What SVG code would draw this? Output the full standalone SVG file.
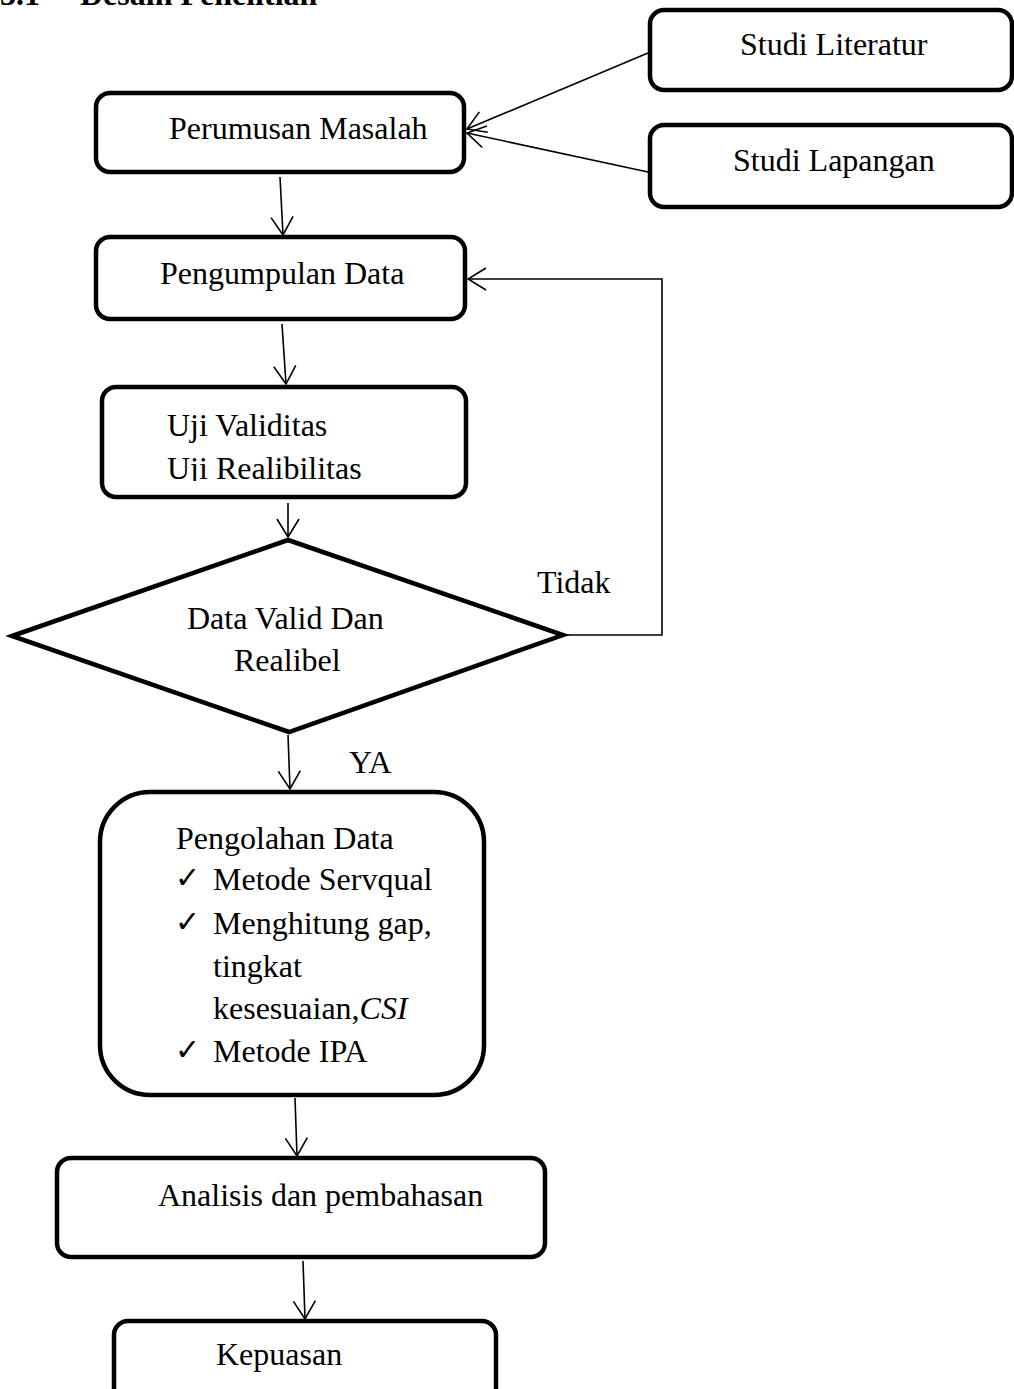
<svg xmlns="http://www.w3.org/2000/svg" width="1014" height="1389" viewBox="0 0 1014 1389">
<style>
  .box{fill:#fff;stroke:#000;stroke-width:4.5}
  .t{font-family:"Liberation Serif","Times New Roman",serif;font-size:32px;fill:#000}
  .ck{font-family:"DejaVu Sans",sans-serif;font-size:30px;fill:#000}
  .ln{fill:none;stroke:#000;stroke-width:1.6}
</style>
<defs>
  <marker id="ah" viewBox="0 0 20 24" refX="19" refY="12" markerWidth="20" markerHeight="24" markerUnits="userSpaceOnUse" orient="auto">
    <path d="M1,1 L19,12 L1,23" fill="none" stroke="#000" stroke-width="1.6"/>
  </marker>
  <clipPath id="ujiclip"><rect x="100" y="385" width="370" height="96"/></clipPath>
</defs>
<rect width="1014" height="1389" fill="#fff"/>
<text class="t" x="0" y="5" font-weight="bold">3.1</text>
<text class="t" x="80" y="5" font-weight="bold">Desain Penelitian</text>

<g id="connectors">
  <line class="ln" x1="648" y1="53" x2="467" y2="129" marker-end="url(#ah)"/>
  <line class="ln" x1="648" y1="172" x2="467" y2="133" marker-end="url(#ah)"/>
  <line class="ln" x1="280" y1="177" x2="283" y2="235" marker-end="url(#ah)"/>
  <line class="ln" x1="282" y1="324" x2="286" y2="384" marker-end="url(#ah)"/>
  <line class="ln" x1="288" y1="503" x2="288" y2="537" marker-end="url(#ah)"/>
  <polyline class="ln" points="563,635 662,635 662,279 468,279" marker-end="url(#ah)"/>
  <line class="ln" x1="288" y1="735" x2="290" y2="789" marker-end="url(#ah)"/>
  <line class="ln" x1="295" y1="1098" x2="297" y2="1156" marker-end="url(#ah)"/>
  <line class="ln" x1="303" y1="1261" x2="305" y2="1319" marker-end="url(#ah)"/>
  <text class="t" x="537" y="593">Tidak</text>
  <text class="t" x="349" y="773">YA</text>
</g>

<g id="studi-literatur">
  <rect class="box" x="650" y="10" width="362" height="80" rx="14"/>
  <text class="t" x="740" y="55">Studi Literatur</text>
</g>
<g id="studi-lapangan">
  <rect class="box" x="650" y="125" width="362" height="82" rx="14"/>
  <text class="t" x="733" y="171">Studi Lapangan</text>
</g>
<g id="perumusan-masalah">
  <rect class="box" x="96" y="93" width="368" height="79" rx="14"/>
  <text class="t" x="169" y="139">Perumusan Masalah</text>
</g>
<g id="pengumpulan-data">
  <rect class="box" x="96" y="237" width="369" height="82" rx="14"/>
  <text class="t" x="160" y="284">Pengumpulan Data</text>
</g>
<g id="uji">
  <rect class="box" x="102" y="387" width="364" height="110" rx="14"/>
  <g clip-path="url(#ujiclip)">
    <text class="t" x="167" y="436">Uji Validitas</text>
    <text class="t" x="167" y="479">Uji Realibilitas</text>
  </g>
</g>
<g id="keputusan">
  <polygon class="box" points="12,636 288,540 563,635 289,732" stroke-width="5"/>
  <text class="t" x="187" y="629">Data Valid Dan</text>
  <text class="t" x="234" y="671">Realibel</text>
</g>
<g id="pengolahan-data">
  <rect class="box" x="100" y="792" width="384" height="303" rx="50"/>
  <text class="t" x="176" y="849">Pengolahan Data</text>
  <text class="ck" x="175" y="888">✓</text>
  <text class="t" x="213" y="890">Metode Servqual</text>
  <text class="ck" x="175" y="932">✓</text>
  <text class="t" x="213" y="934">Menghitung gap,</text>
  <text class="t" x="213" y="977">tingkat</text>
  <text class="t" x="213" y="1019">kesesuaian,<tspan font-style="italic">CSI</tspan></text>
  <text class="ck" x="175" y="1060">✓</text>
  <text class="t" x="213" y="1062">Metode IPA</text>
</g>
<g id="analisis">
  <rect class="box" x="57" y="1158" width="488" height="99" rx="14"/>
  <text class="t" x="158" y="1206">Analisis dan pembahasan</text>
</g>
<g id="kepuasan">
  <rect class="box" x="114" y="1321" width="382" height="100" rx="14"/>
  <text class="t" x="216" y="1365">Kepuasan</text>
</g>
</svg>
